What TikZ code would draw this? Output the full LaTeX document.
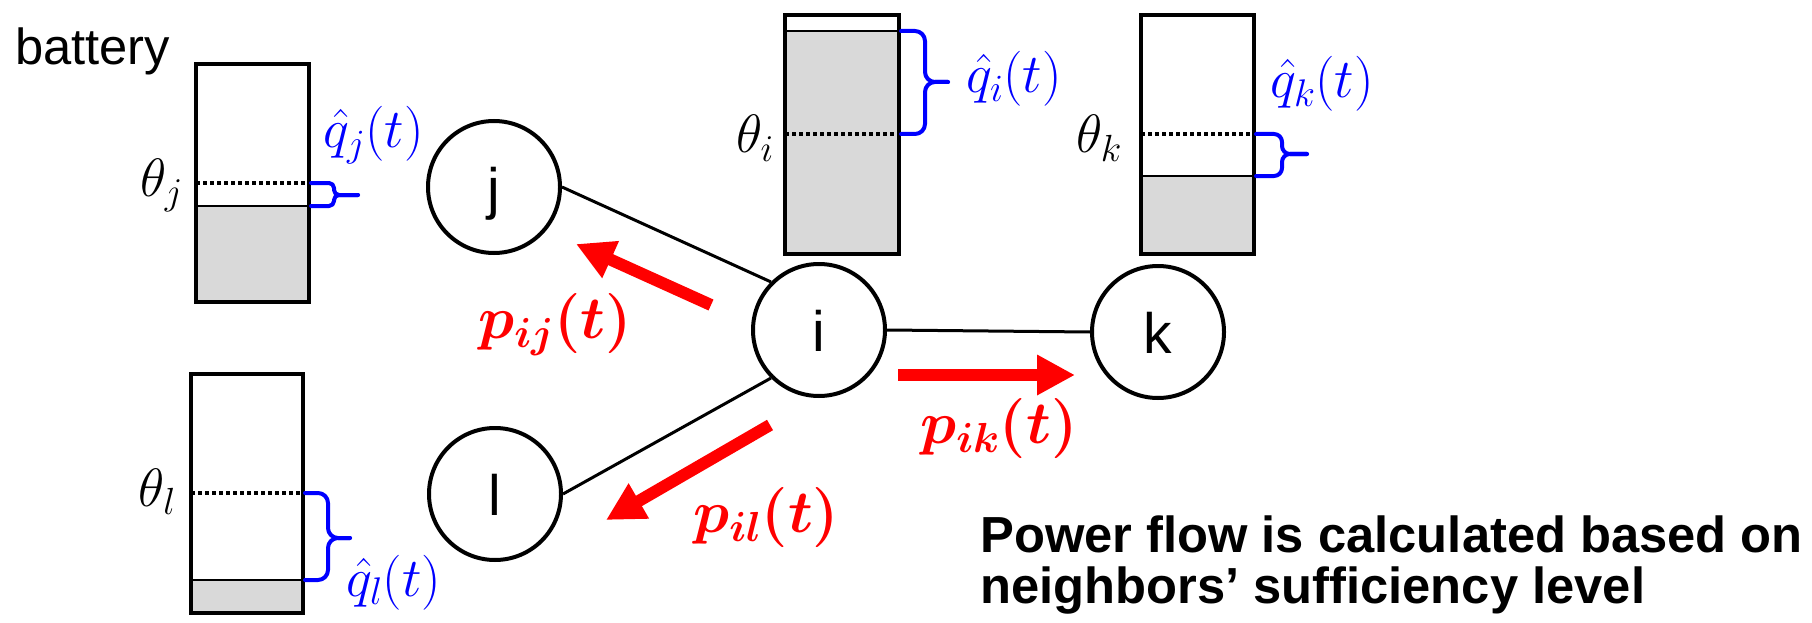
\documentclass[tikz,border=0pt]{standalone}
\usepackage{fix-cm}
\usepackage{bm}
\usepackage[no-math]{fontspec}
\setmainfont{Liberation Sans}
\usetikzlibrary{arrows.meta}
\definecolor{qblue}{RGB}{0,0,255}
\definecolor{pred}{RGB}{255,0,0}
\definecolor{battfill}{RGB}{217,217,217}
\tikzset{
  vertex/.style={circle, draw=black, line width=4pt, minimum size=132pt, inner sep=0pt,
    text height=42pt, text depth=0pt, font=\fontsize{57}{60}\selectfont},
  edge/.style={draw=black, line width=3pt},
  flow/.style={draw=pred, line width=12pt, -{Triangle[length=38pt,width=38pt]}},
  boxline/.style={draw=black, line width=4.5pt},
  levelline/.style={draw=black, line width=1.2pt},
  dotline/.style={draw=black, line width=3.5pt, dash pattern=on 3.5pt off 3.5pt},
  qbrace/.style={draw=qblue, line width=4pt, line join=round, line cap=round, rounded corners=#1},
  qbrace/.default=8pt,
  qlab/.style={text=qblue, inner sep=0pt, anchor=base west, font=\fontsize{55}{60}\selectfont},
  thlab/.style={inner sep=0pt, anchor=base east, font=\fontsize{54}{60}\selectfont},
  plab/.style={text=pred, inner sep=0pt, anchor=base west, font=\fontsize{60}{66}\selectfont},
  note/.style={inner sep=0pt, anchor=base west, font=\fontsize{50.7}{56}\selectfont\bfseries},
  plain/.style={inner sep=0pt, anchor=base west, font=\fontsize{50.7}{56}\selectfont},
}
% battery: left, top, right, bottom, level, theta
\newcommand\batt[6]{%
  \fill[battfill] (#1,#5) rectangle (#3,#4);
  \draw[levelline] (#1,#5) -- (#3,#5);
  \draw[dotline] (#1,#6) -- (#3,#6);
  \draw[boxline] (#1,#2) rectangle (#3,#4);}
% brace: x0, xv, xt, ytop, ymid, ybot, radius
\newcommand\qbr[7]{%
  \draw[qbrace=#7] (#1,#4) -- (#2,#4) -- (#2,#5) -- (#3,#5);
  \draw[qbrace=#7] (#1,#6) -- (#2,#6) -- (#2,#5) -- (#3,#5);}
\begin{document}
\begin{tikzpicture}[x=1pt,y=-1pt]
\useasboundingbox (0,0) rectangle (1812,623);

% batteries
\batt{196}{64}{309}{302}{206}{183}
\batt{785}{15}{899}{254}{31}{134}
\batt{1141}{15}{1254}{254}{176}{134}
\batt{191}{374}{303}{613}{580}{493}

% braces
\qbr{311}{334}{358}{183}{195}{206}{5pt}
\qbr{901}{925}{948}{31}{82}{134}{10pt}
\qbr{1256}{1282}{1307}{134}{154}{176}{8pt}
\qbr{305}{328}{350}{493}{538}{580}{10pt}

% labels of batteries
\node[plain] (bat) at (15,65) {battery};
\node[thlab] (thj) at (183,196) {$\theta_j$};
\node[thlab] (thi) at (774,153) {$\theta_i$};
\node[thlab] (thk) at (1122,153) {$\theta_k$};
\node[thlab] (thl) at (176,506) {$\theta_l$};
\node[qlab] (qj) at (323,148) {$\hat{q}_j(t)$};
\node[qlab] (qi) at (966,93) {$\hat{q}_i(t)$};
\node[qlab] (qk) at (1270,98) {$\hat{q}_k(t)$};
\node[qlab] (ql) at (346,596) {$\hat{q}_l(t)$};

% graph
\node[vertex] (j) at (494,187) {j};
\node[vertex] (i) at (819,330) {i};
\node[vertex] (k) at (1158,332) {k};
\node[vertex] (l) at (495,494) {l};
\draw[edge] (j.east) -- (i.north west);
\draw[edge] (i.south west) -- (l.east);
\draw[edge] (i.east) -- (k.west);

% flows
\coordinate (aij0) at (711,305);
\coordinate (aij1) at (576,244);
\coordinate (ail0) at (770,425);
\coordinate (ail1) at (606,520);
\coordinate (aik0) at (898,375);
\coordinate (aik1) at (1075,375);
\draw[flow] (aij0) -- (aij1);
\draw[flow] (ail0) -- (ail1);
\draw[flow] (aik0) -- (aik1);
\node[plab] (pij) at (478,338) {$\bm{p_{ij}(t)}$};
\node[plab] (pik) at (920,443) {$\bm{p_{ik}(t)}$};
\node[plab] (pil) at (693,532) {$\bm{p_{il}(t)}$};

% note
\node[note] (n1) at (980,552) {Power flow is calculated based on};
\node[note] (n2) at (980,603) {neighbors’ sufficiency level};
\end{tikzpicture}
\end{document}
